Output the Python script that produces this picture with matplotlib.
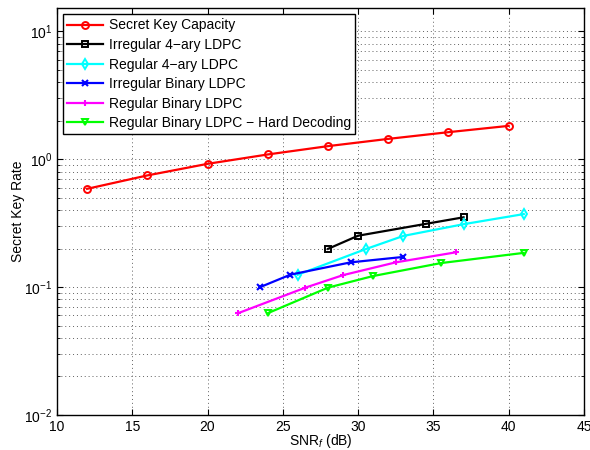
import numpy as np
import matplotlib
matplotlib.use('Agg')
import matplotlib.pyplot as plt
from matplotlib.ticker import LogLocator

plt.rcParams['font.family'] = ['Liberation Sans', 'DejaVu Sans']
plt.rcParams['font.size'] = 10
plt.rcParams['mathtext.fontset'] = 'custom'
plt.rcParams['mathtext.rm'] = 'Liberation Sans'
plt.rcParams['mathtext.it'] = 'Liberation Sans:italic'

# data
cap_snr = [12, 16, 20, 24, 28, 32, 36, 40]
cap_rate = [0.586, 0.746, 0.919, 1.088, 1.264, 1.44, 1.625, 1.82]

irr4_snr = [28, 30, 34.5, 37]
irr4_rate = [0.199, 0.252, 0.312, 0.351]

reg4_snr = [26, 30.5, 33, 37, 41]
reg4_rate = [0.125, 0.198, 0.251, 0.31, 0.372]

irrb_snr = [23.5, 25.5, 29.5, 33]
irrb_rate = [0.1, 0.125, 0.156, 0.172]

regb_snr = [22, 26.5, 29, 32.5, 36.5]
regb_rate = [0.0623, 0.099, 0.124, 0.156, 0.187]

hard_snr = [24, 28, 31, 35.5, 41]
hard_rate = [0.0625, 0.099, 0.122, 0.154, 0.185]

series = [
    (cap_snr, cap_rate, 'r', 'o', 'Secret Key Capacity'),
    (irr4_snr, irr4_rate, 'k', 's', 'Irregular 4\u2212ary LDPC'),
    (reg4_snr, reg4_rate, '#00ffff', 'd', 'Regular 4\u2212ary LDPC'),
    (irrb_snr, irrb_rate, '#0000ff', 'x', 'Irregular Binary LDPC'),
    (regb_snr, regb_rate, '#ff00ff', '+', 'Regular Binary LDPC'),
    (hard_snr, hard_rate, '#00ff00', 'v', 'Regular Binary LDPC \u2212 Hard Decoding'),
]

fig = plt.figure(figsize=(5.9, 4.5), dpi=100)
ax = fig.add_axes([0.0966, 0.0778, 0.8932, 0.904])

for x, y, c, m, lab in series:
    if m in ('x', '+'):
        ax.plot(x, y, color=c, marker=m, lw=1.6, ms=4.5, mew=1.5, label=lab)
    else:
        ax.plot(x, y, color=c, marker=m, lw=1.6, ms=5, mew=1.4,
                mfc='none', label=lab)

ax.set_yscale('log')
ax.set_xlim(10, 45)
ax.set_ylim(0.01, 10 ** 1.18)
ax.set_xticks([10, 15, 20, 25, 30, 35, 40, 45])
ax.yaxis.set_major_locator(LogLocator(base=10, numticks=10))
ax.yaxis.set_minor_locator(LogLocator(base=10, subs=np.arange(2, 10), numticks=20))

dots = (0, (1, 3))
ax.grid(True, which='major', linestyle=dots, color='#606060', lw=0.7)
ax.grid(True, which='minor', axis='y', linestyle=dots, color='#606060', lw=0.7)
ax.tick_params(which='both', direction='in', top=True, right=True)
ax.tick_params(which='major', length=4)
ax.tick_params(which='minor', length=2)
for s in ax.spines.values():
    s.set_linewidth(1.0)

ax.set_xlabel('SNR$_f$ (dB)', labelpad=-1)
ax.set_ylabel('Secret Key Rate', labelpad=-1)

leg = ax.legend(loc='upper left', bbox_to_anchor=(0.011, 0.985), fancybox=False,
                framealpha=1, edgecolor='k', handlelength=2.6, borderpad=0.3,
                labelspacing=0.4, handletextpad=0.4, borderaxespad=0)
leg.get_frame().set_linewidth(1.0)

fig.savefig('out.png', dpi=100)
